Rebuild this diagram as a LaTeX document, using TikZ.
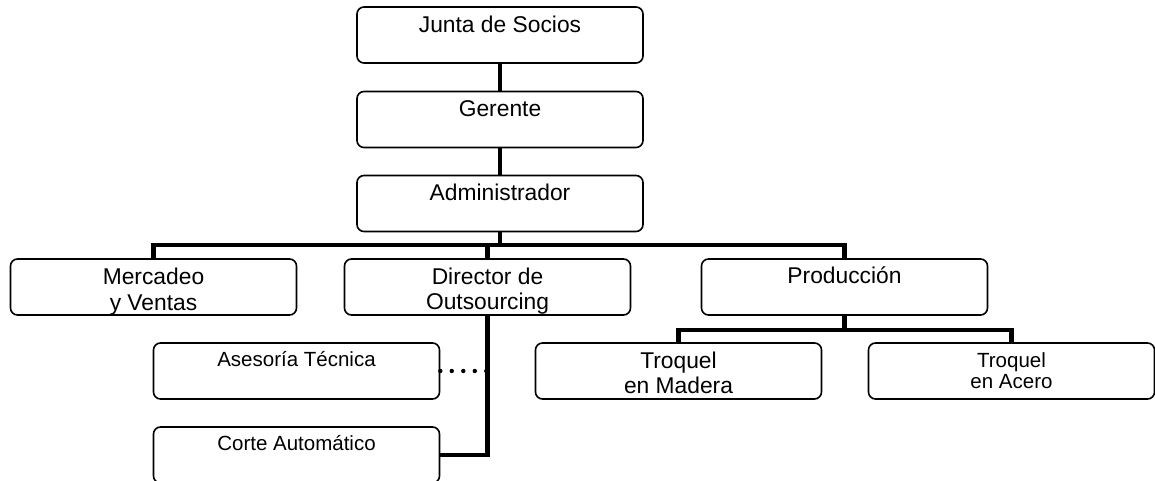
\documentclass[tikz,border=0pt]{standalone}
\usepackage{fontspec}
\setmainfont{Liberation Sans}
\begin{document}
\begin{tikzpicture}[x=1pt,y=-1pt,
  box/.style={draw=black,line width=1.6pt,rounded corners=7pt,minimum width=286pt,minimum height=56pt,inner sep=0pt},
  big/.style={anchor=base,inner sep=0pt,font=\fontsize{22.8}{26}\selectfont},
  small/.style={anchor=base,inner sep=0pt,font=\fontsize{20.5}{22}\selectfont},
  conn/.style={line width=4.6pt},
  dotline/.style={line width=4.4pt,line cap=round,dash pattern=on 0pt off 11.5pt}]
\useasboundingbox (0,0) rectangle (1155,481);
\clip (0,0) rectangle (1155,481);
% boxes
\node[box] (jun) at (500,35) {};
\node[box] (ger) at (500,119.5) {};
\node[box] (adm) at (500,203.5) {};
\node[box] (mer) at (153.5,287) {};
\node[box] (dir) at (487.5,287) {};
\node[box] (pro) at (844.5,287) {};
\node[box] (mad) at (678.5,371) {};
\node[box] (ace) at (1011.5,371) {};
\node[box] (ase) at (296.5,371) {};
\node[box] (cor) at (296.5,455) {};
% texts
\node[big] (junt) at (500,33) {Junta de Socios};
\node[big] (gert) at (500,117) {Gerente};
\node[big] (admt) at (500,200) {Administrador};
\node[big] (mert1) at (153.5,284) {Mercadeo};
\node[big] (mert2) at (153.5,310) {y Ventas};
\node[big] (dirt1) at (487.5,284) {Director de};
\node[big] (dirt2) at (487.5,309.5) {Outsourcing};
\node[big] (prot) at (844.5,283) {Producción};
\node[big] (madt1) at (678.5,368) {Troquel};
\node[big] (madt2) at (678.5,393) {en Madera};
\node[small] (acet1) at (1011.5,367) {Troquel};
\node[small] (acet2) at (1011.5,388) {en Acero};
\node[small] (aset) at (296.5,366) {Asesoría Técnica};
\node[small] (cort) at (296.5,450) {Corte Automático};
% connectors
\coordinate (bus) at (500,245);
\coordinate (pbus) at (844.5,330);
\draw[conn] (jun.south) -- (ger.north);
\draw[conn] (ger.south) -- (adm.north);
\draw[conn] (adm.south) -- (bus);
\draw[conn] (mer.north) |- (bus) -| (pro.north);
\draw[conn] (dir.north) -- (dir.north |- bus);
\draw[conn] (dir.south) |- (cor.east);
\draw[dotline] (ase.east) -- (ase.east -| dir.south);
\draw[conn] (pro.south) -- (pbus);
\draw[conn] (mad.north) |- (pbus) -| (ace.north);
\end{tikzpicture}
\end{document}
